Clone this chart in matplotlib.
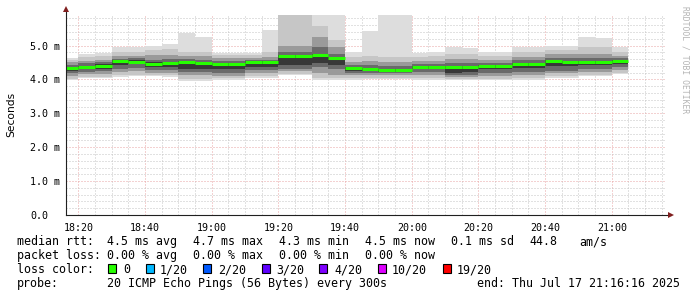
import matplotlib
matplotlib.use("Agg")
import matplotlib.pyplot as plt
from matplotlib.patches import Rectangle

# ---------------- data ----------------
bin_start = ["18:15", "18:20", "18:25", "18:30", "18:35", "18:40", "18:45", "18:50", "18:55",
             "19:00", "19:05", "19:10", "19:15", "19:20", "19:25", "19:30", "19:35", "19:40",
             "19:45", "19:50", "19:55", "20:00", "20:05", "20:10", "20:15", "20:20", "20:25",
             "20:30", "20:35", "20:40", "20:45", "20:50", "20:55", "21:00"]

# ping rtt distribution per 5-minute bin (ms)
p_min = [3.97, 4.04, 4.04, 4.07, 4.10, 4.09, 4.07, 3.95, 3.95, 3.99, 3.99, 4.05, 4.05, 4.12, 4.12, 3.97, 3.97,
         3.97, 4.00, 4.00, 4.00, 3.97, 3.97, 3.97, 3.97, 3.97, 3.97, 3.97, 3.97, 4.05, 4.05, 4.10, 4.10, 4.17]
p05 = [4.02, 4.08, 4.08, 4.12, 4.14, 4.13, 4.12, 4.02, 4.02, 4.03, 4.03, 4.09, 4.09, 4.16, 4.16, 4.04, 4.04,
       4.03, 4.04, 4.04, 4.04, 4.03, 4.03, 4.02, 4.02, 4.02, 4.02, 4.03, 4.03, 4.10, 4.10, 4.14, 4.14, 4.20]
p20 = [4.10, 4.15, 4.16, 4.22, 4.24, 4.20, 4.20, 4.12, 4.12, 4.10, 4.10, 4.18, 4.18, 4.24, 4.24, 4.20, 4.14,
       4.12, 4.12, 4.12, 4.12, 4.14, 4.14, 4.08, 4.08, 4.10, 4.10, 4.12, 4.12, 4.18, 4.18, 4.22, 4.22, 4.28]
p35 = [4.18, 4.22, 4.24, 4.32, 4.34, 4.28, 4.28, 4.22, 4.22, 4.20, 4.20, 4.28, 4.28, 4.32, 4.32, 4.38, 4.30,
       4.20, 4.20, 4.18, 4.18, 4.22, 4.22, 4.14, 4.14, 4.20, 4.20, 4.22, 4.22, 4.26, 4.26, 4.30, 4.30, 4.36]
p45 = [4.25, 4.30, 4.32, 4.42, 4.44, 4.36, 4.36, 4.32, 4.32, 4.30, 4.30, 4.38, 4.38, 4.42, 4.42, 4.48, 4.42,
       4.26, 4.24, 4.22, 4.22, 4.30, 4.30, 4.20, 4.22, 4.30, 4.30, 4.34, 4.34, 4.40, 4.40, 4.42, 4.42, 4.46]
median = [4.33, 4.38, 4.41, 4.53, 4.51, 4.46, 4.48, 4.50, 4.48, 4.45, 4.45, 4.50, 4.50, 4.68, 4.68, 4.71, 4.63,
          4.33, 4.32, 4.29, 4.29, 4.36, 4.36, 4.38, 4.38, 4.39, 4.40, 4.46, 4.45, 4.54, 4.51, 4.51, 4.51, 4.54]
p55 = [4.36, 4.41, 4.44, 4.56, 4.58, 4.50, 4.52, 4.54, 4.52, 4.48, 4.48, 4.53, 4.53, 4.72, 4.72, 4.74, 4.66,
       4.36, 4.35, 4.32, 4.32, 4.39, 4.39, 4.41, 4.41, 4.42, 4.43, 4.49, 4.48, 4.57, 4.54, 4.54, 4.54, 4.57]
p65 = [4.42, 4.47, 4.50, 4.60, 4.62, 4.58, 4.60, 4.60, 4.58, 4.54, 4.54, 4.58, 4.58, 4.80, 4.80, 4.95, 4.74,
       4.42, 4.42, 4.40, 4.40, 4.44, 4.44, 4.48, 4.48, 4.48, 4.48, 4.56, 4.56, 4.64, 4.62, 4.62, 4.62, 4.62]
p80 = [4.50, 4.55, 4.58, 4.68, 4.70, 4.72, 4.72, 4.70, 4.68, 4.62, 4.62, 4.64, 4.66, 4.98, 4.98, 5.24, 4.95,
       4.52, 4.54, 4.52, 4.52, 4.54, 4.54, 4.60, 4.60, 4.58, 4.58, 4.66, 4.66, 4.74, 4.74, 4.76, 4.76, 4.70]
p95 = [4.58, 4.66, 4.70, 4.80, 4.80, 4.88, 4.90, 4.82, 4.82, 4.72, 4.72, 4.72, 4.80, 6.00, 6.00, 5.59, 5.15,
       4.66, 4.70, 4.66, 4.66, 4.66, 4.68, 4.76, 4.76, 4.70, 4.70, 4.80, 4.80, 4.86, 4.86, 4.95, 4.95, 4.82]
p_max = [4.64, 4.74, 4.78, 4.95, 4.95, 4.98, 5.03, 5.36, 5.26, 4.79, 4.79, 4.79, 5.46, 6.40, 6.40, 6.20, 6.20,
         4.80, 5.44, 6.20, 6.20, 4.77, 4.80, 4.95, 4.93, 4.82, 4.82, 4.95, 4.95, 5.00, 5.00, 5.24, 5.22, 4.95]

x_tick_labels = ["18:20", "18:40", "19:00", "19:20", "19:40", "20:00", "20:20", "20:40", "21:00"]
y_tick_values = [0, 1, 2, 3, 4, 5]
y_tick_labels = ["0.0", "1.0 m", "2.0 m", "3.0 m", "4.0 m", "5.0 m"]

legend_rows = [
    [("median rtt:", 16.7), ("4.5 ms avg", 107.3), ("4.7 ms max", 193.3), ("4.3 ms min", 279.3),
     ("4.5 ms now", 365.3), ("0.1 ms sd", 451.3), ("44.8", 529.7), ("am/s", 579.3)],
    [("packet loss:", 16.7), ("0.00 % avg", 107.3), ("0.00 % max", 193.3), ("0.00 % min", 279.3),
     ("0.00 % now", 365.3)],
]
loss_labels = ["0", "1/20", "2/20", "3/20", "4/20", "10/20", "19/20"]
loss_colors = ["#26ff00", "#00b8ff", "#0059ff", "#5e00ff", "#7e00ff", "#dd00ff", "#ff0000"]
probe_text = "20 ICMP Echo Pings (56 Bytes) every 300s"
end_text = "end: Thu Jul 17 21:16:16 2025"

# ---------------- helpers ----------------
def to_min(s):
    h, m = s.split(":")
    return (int(h) - 18) * 60 + int(m)

W, H = 697, 297
MONO = "DejaVu Sans Mono"

fig = plt.figure(figsize=(W / 100, H / 100), dpi=100)
fig.patch.set_facecolor("white")
ax = fig.add_axes([66 / W, (H - 215) / H, 600 / W, 200 / H])
ax.set_facecolor("white")

x0 = [to_min(s) for s in bin_start]
x_start, x_end = 16 + 16 / 60, 196 + 16 / 60
ax.set_xlim(x_start, x_end)
ax.set_ylim(0, 5.9)

# grid
maj_x = [to_min(s) for s in x_tick_labels]
min_x = [m for m in range(20, 196, 5)]
ax.set_xticks(maj_x, labels=x_tick_labels)
ax.set_xticks(min_x, minor=True)
ax.set_yticks(y_tick_values, labels=y_tick_labels)
ax.set_yticks([v / 5 for v in range(0, 30)], minor=True)

ax.grid(which="minor", color="#c4c4c4", linestyle=(0, (1, 2)), linewidth=0.72, zorder=0)
ax.grid(which="major", color="#e8a4a4", linestyle=(0, (1, 2)), linewidth=0.72, zorder=0)
ax.set_axisbelow(True)

# smoke layers
levels = [(p_min, p_max, "#dddddd"), (p05, p95, "#c6c6c6"), (p20, p80, "#9a9a9a"),
          (p35, p65, "#6a6a6a"), (p45, p55, "#383838")]
for lo, hi, col in levels:
    ax.bar(x0, [h - l for l, h in zip(lo, hi)], bottom=lo, width=5, align="edge",
           color=col, linewidth=0, zorder=2)

# median
ax.hlines(median, x0, [x + 5 for x in x0], colors="#26ff00", linewidth=2.2, zorder=3)

# axes lines and arrows
for sp in ax.spines.values():
    sp.set_visible(False)
ax.plot([0, 0], [0, 1.03], transform=ax.transAxes, color="#202020", lw=0.8, clip_on=False, zorder=5)
ax.plot([0, 1.008], [0, 0], transform=ax.transAxes, color="#202020", lw=0.8, clip_on=False, zorder=5)
ax.plot([0], [1.03], marker="^", markersize=4, color="#801f1f", transform=ax.transAxes,
        clip_on=False, zorder=6, markeredgewidth=0)
ax.plot([1.008], [0], marker=">", markersize=4, color="#801f1f", transform=ax.transAxes,
        clip_on=False, zorder=6, markeredgewidth=0)

ax.tick_params(axis="both", which="both", length=0, labelsize=7.2)
ax.tick_params(axis="x", pad=5.5)
ax.tick_params(axis="y", pad=26)
for lab in ax.get_xticklabels() + ax.get_yticklabels():
    lab.set_family(MONO)
for lab in ax.get_yticklabels():
    lab.set_horizontalalignment("left")

# y-axis unit label
fig.text(11 / W, 1 - 114.5 / H, "Seconds", rotation=90, family="DejaVu Sans", fontsize=7.7,
         ha="center", va="center")

# watermark
fig.text(685.5 / W, 1 - 60 / H, "RRDTOOL / TOBI OETIKER", rotation=270, family=MONO,
         fontsize=5.8, color="#b4b4b4", ha="center", va="center")

# legend
def ftext(x, y, s, **kw):
    fig.text(x / W, 1 - y / H, s, family=MONO, fontsize=8.4, va="baseline", **kw)

baselines = [245.3, 259.0, 273.3, 287.0]
for row, yb in zip(legend_rows, baselines[:2]):
    for s, xp in row:
        ftext(xp, yb, s)

ftext(16.7, baselines[2], "loss color:")
box_x = [108.3, 145.7, 203.0, 261.7, 319.0, 377.7, 443.0]
txt_x = [123.3, 160.0, 218.0, 276.7, 334.0, 392.0, 457.0]
for bx, tx, lab, col in zip(box_x, txt_x, loss_labels, loss_colors):
    fig.patches.append(Rectangle((bx / W, 1 - 273.3 / H), 8 / W, 9 / H, transform=fig.transFigure,
                                 facecolor=col, edgecolor="black", linewidth=0.8))
    ftext(tx, baselines[2], lab)

ftext(16.7, baselines[3], "probe:")
ftext(107.3, baselines[3], probe_text)
ftext(680.3, baselines[3], end_text, ha="right")

fig.savefig("out.png", dpi=100, facecolor="white")
